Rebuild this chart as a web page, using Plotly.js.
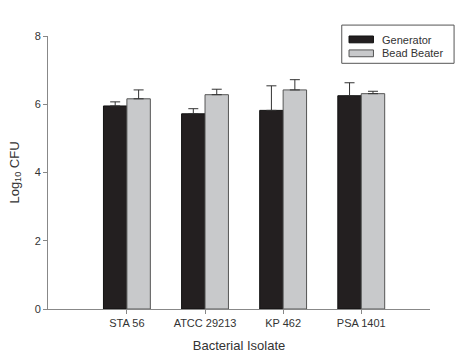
<!DOCTYPE html>
<html><head><meta charset="utf-8">
<script src="https://cdn.plot.ly/plotly-3.0.1.min.js"></script>
<style>html,body{margin:0;padding:0;background:#fff}#chart{width:460px;height:362px}</style>
</head><body><div id="chart"></div>
<script>
const categories = ["STA 56", "ATCC 29213", "KP 462", "PSA 1401"];
const seriesNames = ["Generator", "Bead Beater"];
const generator = [5.95, 5.72, 5.82, 6.25];
const generatorErr = [0.12, 0.15, 0.72, 0.38];
const beadBeater = [6.16, 6.28, 6.42, 6.31];
const beadBeaterErr = [0.26, 0.16, 0.30, 0.07];
const yTicks = [0, 2, 4, 6, 8];

const fills = ["#231f20", "#c8c9cb"];
const outlines = ["#111", "#555"];
const zeros = categories.map(() => 0);
const traces = [
  {type: "bar", name: seriesNames[0], x: categories, y: generator,
   marker: {color: fills[0], line: {color: outlines[0], width: 1}},
   error_y: {type: "data", symmetric: false, array: generatorErr, arrayminus: zeros, color: "#333", thickness: 1, width: 5}},
  {type: "bar", name: seriesNames[1], x: categories, y: beadBeater,
   marker: {color: fills[1], line: {color: outlines[1], width: 1}},
   error_y: {type: "data", symmetric: false, array: beadBeaterErr, arrayminus: zeros, color: "#333", thickness: 1, width: 5}}
];

// legend drawn in paper coordinates (box, rectangular swatches, labels)
const shapes = [
  {type: "rect", xref: "paper", yref: "paper", x0: 0.769, x1: 1.063, y0: 0.900, y1: 1.040,
   line: {color: "#555", width: 1}, fillcolor: "#fff"}
];
const annotations = [];
const rowY = [[0.975, 1.0, 0.985], [0.924, 0.949, 0.938]];
seriesNames.forEach((n, i) => {
  shapes.push({type: "rect", xref: "paper", yref: "paper", x0: 0.788, x1: 0.852, y0: rowY[i][0], y1: rowY[i][1],
               line: {color: outlines[i], width: 1}, fillcolor: fills[i]});
  annotations.push({xref: "paper", yref: "paper", x: 0.869, y: rowY[i][2], xanchor: "left", yanchor: "middle",
                    text: n, showarrow: false, font: {size: 11, color: "#333"}});
});

const layout = {
  width: 460, height: 362,
  margin: {l: 48, r: 30, t: 36, b: 53},
  paper_bgcolor: "#fff", plot_bgcolor: "#fff",
  font: {family: "Liberation Sans, Arial, sans-serif", color: "#333", size: 11},
  barmode: "group", bargap: 0.4, bargroupgap: 0,
  showlegend: false,
  shapes: shapes, annotations: annotations,
  xaxis: {type: "category", range: [-1.01, 3.88], showline: true, linecolor: "#888", linewidth: 1,
          ticks: "outside", ticklen: 4, tickcolor: "#888", showgrid: false, zeroline: false,
          title: {text: "Bacterial Isolate", font: {size: 13, color: "#333"}, standoff: 12}},
  yaxis: {range: [0, 8], tickvals: yTicks, showline: true, linecolor: "#888", linewidth: 1,
          ticks: "outside", ticklen: 4, tickcolor: "#888", showgrid: false, zeroline: false,
          title: {text: "Log<sub>10</sub> CFU", font: {size: 13, color: "#333"}, standoff: 12}}
};
Plotly.newPlot("chart", traces, layout, {displayModeBar: false, staticPlot: true});
</script></body></html>
